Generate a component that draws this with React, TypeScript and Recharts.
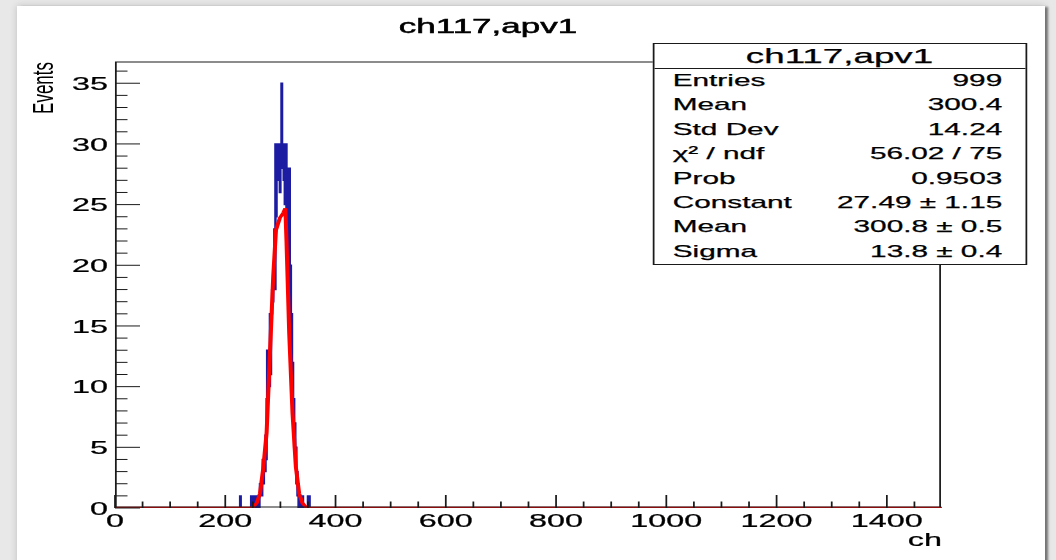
import { LineChart, Line, XAxis, YAxis } from "recharts";

// the reference picture is stretched sideways, so the chart is drawn narrow and scaled
const SX = 1.75;
const W = 1056;
const H = 560;
const sx = (v: number) => v / SX;

const FONT = '"Liberation Sans", Arial, Helvetica, sans-serif';

const title = "ch117,apv1";
const xTitle = "ch";
const yTitle = "Events";

const xMajor = [0, 200, 400, 600, 800, 1000, 1200, 1400];
const xTicks = [
  0, 50, 100, 150, 200, 250, 300, 350, 400, 450, 500, 550, 600, 650, 700,
  750, 800, 850, 900, 950, 1000, 1050, 1100, 1150, 1200, 1250, 1300, 1350, 1400, 1450,
];
const yMajor = [0, 5, 10, 15, 20, 25, 30, 35];
const yTicks = [
  0, 1, 2, 3, 4, 5, 6, 7, 8, 9, 10, 11, 12, 13, 14, 15, 16, 17, 18,
  19, 20, 21, 22, 23, 24, 25, 26, 27, 28, 29, 30, 31, 32, 33, 34, 35, 36,
];

// bin contents, one bin per channel, starting at channel 226
const histStart = 226;
const histCounts = [
  0, 1, 0, 0, 0, 0, 0, 0, 0, 0, 0, 0, 0, 0, 0, 0, 0, 0, 0, 0, 0, // 226-246
  1, 0, 0, 0, 1, 0, 1, 1, 0, 1, 1, 0, 1, 1, 0,                   // 247-261
  1, 2, 1, 2, 1, 2, 4, 2, 3, 4, 3, 6, 4, 9, 13, 9, 11, 13, 10,   // 262-280
  16, 11, 15, 16, 18, 17, 20, 19, 23, 18,                        // 281-290
  30, 24, 30, 27, 30, 30, 30, 30, 26, 30,                        // 291-300
  28, 35, 30, 30, 30, 27, 30, 25, 30, 30,                        // 301-310
  22, 28, 20, 28, 19, 28, 16, 20, 15, 16,                        // 311-320
  10, 12, 8, 9, 5, 7, 4, 5, 2, 3,                                // 321-330
  1, 2, 0, 1, 0, 1, 1, 0, 1, 1,                                  // 331-340
  0, 0, 0, 0, 0, 0, 0, 0, 0, 1, 0, 1, 0,                         // 341-353
];

// gaussian fit curve as drawn
const fitCh = [0, 245, 251, 257, 263, 269, 275, 281, 287, 292, 299, 305, 309, 311, 316, 322, 328, 334, 340, 346, 352, 1500];
const fitVal = [0, 0, 0.1, 0.4, 1.2, 3.3, 6.2, 12.7, 19.1, 22.9, 23.9, 24.3, 24.7, 22.1, 14.4, 7.8, 3.4, 1.2, 0.4, 0.1, 0, 0];

const statsLabels = ["Entries", "Mean", "Std Dev", "χ² / ndf", "Prob", "Constant", "Mean", "Sigma"];
const statsValues = ["999", "300.4", "14.24", "56.02 / 75", "0.9503", "27.49 ± 1.15", "300.8 ± 0.5", "13.8 ± 0.4"];

const histData = [
  { ch: 0, n: 0 },
  ...histCounts.map((n, i) => ({ ch: histStart + i, n })),
  { ch: 1500, n: 0 },
];
const fitData = fitCh.map((ch, i) => ({ ch, v: fitVal[i] }));

const INK = "#1a1a1a";
const TXT = { fontFamily: FONT, fill: "#000", stroke: "#000", strokeWidth: 0.25 };

function XTick(props: any) {
  const { x, y, payload } = props;
  const v = payload.value;
  const major = xMajor.includes(v);
  return (
    <g>
      <line x1={x} x2={x} y1={y} y2={y - (major ? 13 : 6.5)} stroke={INK} strokeWidth={1} />
      {major && (
        <text x={x} y={y + 19} textAnchor="middle" fontSize={18.5} {...TXT}>
          {v}
        </text>
      )}
    </g>
  );
}

function YTick(props: any) {
  const { x, y, payload } = props;
  const v = payload.value;
  const major = yMajor.includes(v);
  return (
    <g>
      <line x1={x} x2={x + (major ? sx(25) : sx(12.5))} y1={y} y2={y} stroke={INK} strokeWidth={1} />
      {major && (
        <text x={x - sx(7)} y={y} dy="0.36em" textAnchor="end" fontSize={18.5} {...TXT}>
          {v}
        </text>
      )}
    </g>
  );
}

export default function App() {
  const plotL = 115, plotR = 942, plotT = 62, plotB = 508;
  const yAxisW = 40, xAxisH = 30;
  return (
    <div style={{ position: "absolute", left: 0, top: 0, width: W, height: H, overflow: "hidden", background: "#e8e8e8", fontFamily: FONT }}>
      <div
        style={{
          position: "absolute", left: 17, top: 6, width: 1028, height: 600, background: "#fff",
          boxShadow: "4px 0 2px -1px rgba(0,0,0,0.45), 0 0 7px rgba(0,0,0,0.18)",
        }}
      />
      <div style={{ position: "absolute", left: 0, top: 0, width: sx(W), height: H, transform: `scaleX(${SX})`, transformOrigin: "0 0" }}>
        <div style={{ position: "absolute", left: 0, top: 0 }}>
          <LineChart
            width={sx(W)}
            height={H}
            margin={{ top: plotT, bottom: H - plotB - xAxisH, left: sx(plotL) - yAxisW, right: sx(W - plotR) }}
          >
            <XAxis
              type="number" dataKey="ch" domain={[0, 1500]} ticks={xTicks} interval={0}
              allowDataOverflow axisLine={false} tickLine={false} tickSize={0} tickMargin={0} height={xAxisH}
              tick={<XTick />}
            />
            <YAxis
              type="number" domain={[0, 36.75]} ticks={yTicks} interval={0}
              allowDataOverflow axisLine={false} tickLine={false} tickSize={0} tickMargin={0} width={yAxisW}
              tick={<YTick />}
            />
            <Line data={histData} dataKey="n" type="stepAfter" stroke="#1c1ca2" strokeWidth={1.4} dot={false} isAnimationActive={false} />
            <Line data={fitData} dataKey="v" type="linear" stroke="#ff0000" strokeWidth={2.3} dot={false} isAnimationActive={false} />
          </LineChart>
        </div>

        {/* frame */}
        <div
          style={{
            position: "absolute", left: sx(plotL), top: plotT, width: sx(plotR - plotL), height: plotB - plotT,
            border: `1px solid ${INK}`, boxSizing: "border-box", transform: "translate(-0.3px,-0.5px)", pointerEvents: "none",
          }}
        />

        <svg width={sx(W)} height={H} style={{ position: "absolute", left: 0, top: 0, overflow: "visible" }}>
          <text x={sx(488)} y={33} textAnchor="middle" fontSize={20} {...TXT} strokeWidth={0.5}>{title}</text>
          <text x={sx(plotR)} y={546} textAnchor="end" fontSize={18.5} {...TXT}>{xTitle}</text>
          <text transform={`translate(${sx(53)},${plotT}) rotate(-90)`} textAnchor="end" fontSize={17} fontFamily={FONT} fill="#000">{yTitle}</text>
        </svg>

        {/* stats box */}
        <div
          style={{
            position: "absolute", left: sx(652), top: 43, width: sx(1027 - 652), background: "#fff",
            border: `1px solid ${INK}`, boxSizing: "border-box", color: "#000", WebkitTextStroke: "0.25px #000",
          }}
        >
          <div style={{ height: 24, lineHeight: "24px", borderBottom: `1px solid ${INK}`, textAlign: "center", fontSize: 21 }}>{title}</div>
          {statsLabels.map((k, i) => (
            <div
              key={i}
              style={{
                display: "flex", justifyContent: "space-between", height: 24.4, lineHeight: "24.4px", fontSize: 17,
                paddingLeft: sx(19), paddingRight: sx(23),
              }}
            >
              <span>{k}</span>
              <span>{statsValues[i]}</span>
            </div>
          ))}
        </div>
      </div>
    </div>
  );
}
